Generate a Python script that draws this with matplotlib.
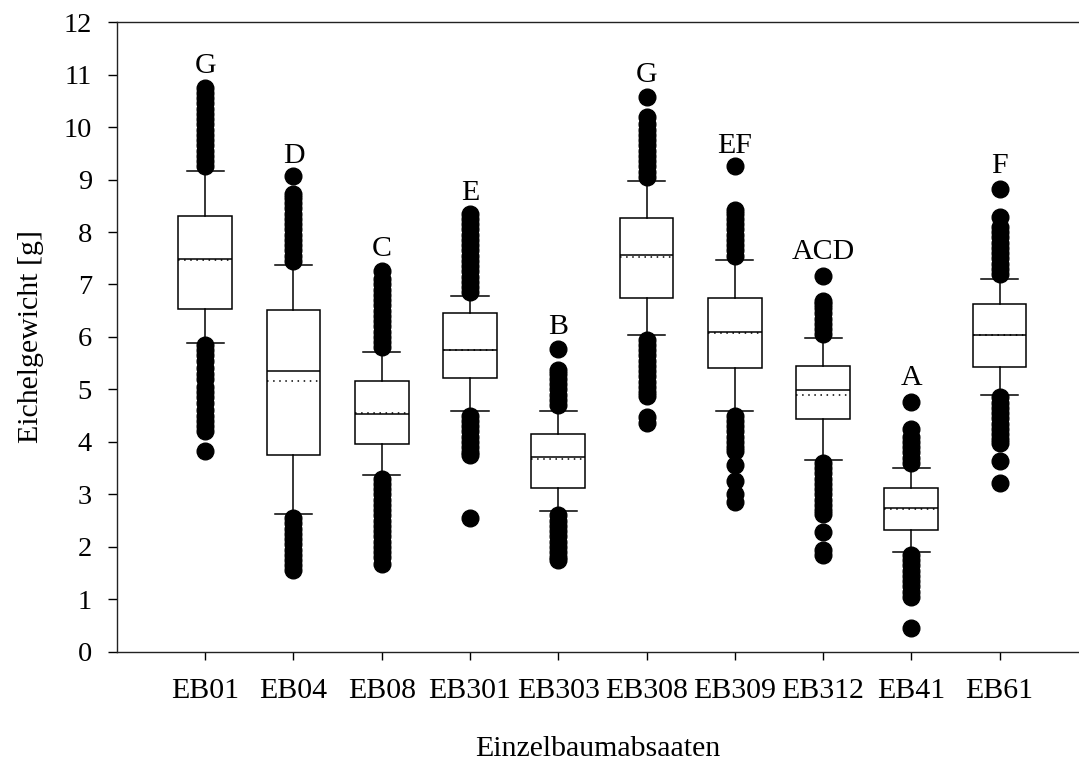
import matplotlib.pyplot as plt

plt.rcParams['font.family'] = ['Liberation Serif', 'DejaVu Serif']

# Einzelbaumabsaaten / Eichelgewicht [g]
names = ["EB01", "EB04", "EB08", "EB301", "EB303", "EB308", "EB309", "EB312", "EB41", "EB61"]
q1 = [6.53, 3.75, 3.96, 5.22, 3.13, 6.75, 5.41, 4.44, 2.32, 5.42]
med = [7.48, 5.35, 4.53, 5.76, 3.71, 7.57, 6.09, 4.99, 2.74, 6.03]
q3 = [8.31, 6.52, 5.17, 6.45, 4.15, 8.27, 6.75, 5.45, 3.13, 6.62]
means = [7.46, 5.17, 4.55, 5.76, 3.67, 7.52, 6.08, 4.90, 2.72, 6.03]
whislo = [5.88, 2.62, 3.38, 4.59, 2.68, 6.03, 4.59, 3.66, 1.91, 4.90]
whishi = [9.17, 7.37, 5.71, 6.78, 4.59, 8.98, 7.47, 5.99, 3.50, 7.10]

fliers = [
    [9.25, 9.35, 9.45, 9.55, 9.65, 9.75, 9.85, 9.95, 10.05, 10.15, 10.25, 10.35, 10.45, 10.55, 10.65, 10.75,
     5.85, 5.75, 5.65, 5.55, 5.4, 5.3, 5.2, 5.05, 4.95, 4.85, 4.75, 4.6, 4.5, 4.4, 4.3, 4.2, 3.83],
    [7.45, 7.55, 7.65, 7.75, 7.85, 7.95, 8.05, 8.15, 8.25, 8.35, 8.45, 8.55, 8.65, 8.72, 9.06,
     2.55, 2.45, 2.35, 2.25, 2.15, 2.05, 1.95, 1.85, 1.75, 1.65, 1.57],
    [5.8, 5.9, 6.0, 6.1, 6.2, 6.3, 6.4, 6.5, 6.6, 6.7, 6.8, 6.9, 7.0, 7.1, 7.25,
     3.3, 3.2, 3.1, 3.0, 2.9, 2.8, 2.7, 2.6, 2.5, 2.4, 2.3, 2.2, 2.1, 2.0, 1.9, 1.8, 1.68],
    [6.85, 6.95, 7.05, 7.15, 7.25, 7.35, 7.45, 7.55, 7.65, 7.75, 7.85, 7.95, 8.05, 8.15, 8.25, 8.34,
     4.5, 4.4, 4.3, 4.2, 4.1, 4.0, 3.9, 3.8, 3.75, 2.55],
    [4.7, 4.8, 4.9, 5.0, 5.1, 5.2, 5.3, 5.37, 5.77,
     2.6, 2.5, 2.4, 2.3, 2.2, 2.1, 2.0, 1.9, 1.8, 1.76],
    [9.05, 9.15, 9.25, 9.35, 9.45, 9.55, 9.65, 9.75, 9.85, 9.95, 10.05, 10.19, 10.57,
     5.95, 5.85, 5.75, 5.65, 5.55, 5.45, 5.35, 5.25, 5.15, 5.05, 4.95, 4.88, 4.48, 4.36],
    [7.55, 7.65, 7.75, 7.85, 7.95, 8.05, 8.15, 8.25, 8.35, 8.42, 9.25,
     4.5, 4.4, 4.3, 4.2, 4.1, 4.0, 3.9, 3.83, 3.56, 3.26, 3.0, 2.85],
    [6.05, 6.15, 6.25, 6.35, 6.45, 6.55, 6.62, 6.69, 7.17,
     3.6, 3.5, 3.4, 3.3, 3.2, 3.1, 3.0, 2.9, 2.8, 2.7, 2.62, 2.28, 1.95, 1.85],
    [3.6, 3.7, 3.8, 3.9, 4.0, 4.1, 4.24, 4.77,
     1.85, 1.75, 1.65, 1.55, 1.45, 1.35, 1.25, 1.15, 1.04, 0.46],
    [7.2, 7.3, 7.4, 7.5, 7.6, 7.7, 7.8, 7.9, 8.0, 8.1, 8.28, 8.81,
     4.85, 4.75, 4.65, 4.55, 4.45, 4.35, 4.25, 4.15, 4.05, 3.98, 3.64, 3.22],
]

letters = ["G", "D", "C", "E", "B", "G", "EF", "ACD", "A", "F"]
letter_y = [11.02, 9.32, 7.55, 8.61, 6.05, 10.85, 9.50, 7.48, 5.09, 9.13]

stats = []
for i in range(len(names)):
    stats.append({'q1': q1[i], 'med': med[i], 'q3': q3[i], 'mean': means[i],
                  'whislo': whislo[i], 'whishi': whishi[i], 'fliers': fliers[i],
                  'label': names[i]})

fig = plt.figure(figsize=(10.79, 7.62), dpi=100)
ax = fig.add_axes([0.1084, 0.1444, 0.8916, 0.8267])

pos = list(range(1, len(names) + 1))
lw = 1.1
ax.bxp(stats, positions=pos, widths=0.61, capwidths=0.42, showmeans=True, meanline=True,
       patch_artist=True,
       boxprops=dict(facecolor='white', edgecolor='black', linewidth=lw),
       medianprops=dict(color='black', linewidth=lw),
       meanprops=dict(color='black', linestyle=(0, (1, 3)), linewidth=lw),
       whiskerprops=dict(color='black', linewidth=lw),
       capprops=dict(color='black', linewidth=lw),
       flierprops=dict(marker='o', markerfacecolor='black', markeredgecolor='black',
                       markersize=12, linestyle='none'))

for i in range(len(names)):
    ax.text(pos[i], letter_y[i], letters[i], ha='center', va='baseline', fontsize=21.5)

ax.set_xlim(0, 10.9)
ax.set_ylim(0, 12)
ax.set_yticks(range(0, 13))
ax.set_xticks(pos)
ax.set_xticklabels(names)
ax.tick_params(axis='y', labelsize=20.5, direction='out', length=6.5, width=1, pad=11.5)
ax.tick_params(axis='x', labelsize=21.5, direction='out', length=6, width=1, pad=13)
ax.spines['right'].set_visible(False)
for s in ['left', 'top', 'bottom']:
    ax.spines[s].set_linewidth(1)
    ax.spines[s].set_color('#222222')

ax.set_ylabel("Eichelgewicht [g]", fontsize=21.5, labelpad=14)
ax.set_xlabel("Einzelbaumabsaaten", fontsize=21.5, labelpad=23)

fig.savefig("out.png", dpi=100)
